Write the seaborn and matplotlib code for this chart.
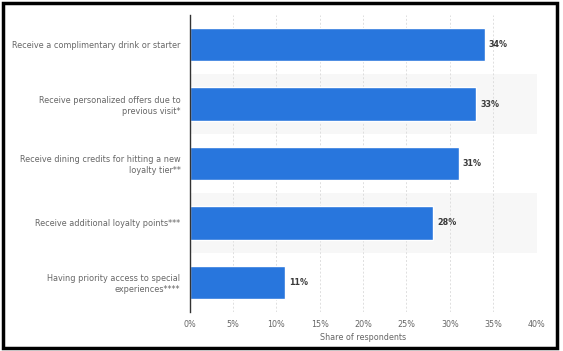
import matplotlib
matplotlib.use("Agg")
import matplotlib.pyplot as plt
import seaborn as sns
import pandas as pd
from matplotlib.patches import Rectangle

categories = [
    "Receive a complimentary drink or starter",
    "Receive personalized offers due to\nprevious visit*",
    "Receive dining credits for hitting a new\nloyalty tier**",
    "Receive additional loyalty points***",
    "Having priority access to special\nexperiences****",
]
values = [34, 33, 31, 28, 11]
xticks = [0, 5, 10, 15, 20, 25, 30, 35, 40]
xticklabels = [f"{t}%" for t in xticks]

df = pd.DataFrame({"cat": categories, "val": values})

sns.set_theme(style="white")
plt.rcParams["font.family"] = ["DejaVu Sans"]

fig = plt.figure(figsize=(5.63, 3.51), dpi=100)
ax = fig.add_axes([189.5 / 563, (351 - 312) / 351, 347.2 / 563, 297 / 351])

# alternating bands
for i in range(len(categories)):
    if i % 2 == 1:
        ax.axhspan(i - 0.5, i + 0.5, color="#f7f7f7", zorder=0, lw=0)

sns.barplot(data=df, x="val", y="cat", color="#2876dd", saturation=1,
            width=0.56, ax=ax, zorder=3)

ax.set_xlim(0, 40)
ax.set_ylim(len(categories) - 0.5, -0.5)
ax.set_xticks(xticks)
ax.set_xticklabels(xticklabels)
ax.xaxis.grid(True, color="#dedede", linestyle=(0, (2, 2)), linewidth=0.7, zorder=1)
ax.set_axisbelow(True)
for s in ["top", "right", "bottom"]:
    ax.spines[s].set_visible(False)
ax.spines["left"].set_color("#333333")
ax.spines["left"].set_linewidth(1.0)
ax.spines["left"].set_zorder(6)
ax.tick_params(axis="x", length=0, pad=6, labelsize=5.8, labelcolor="#666666")
ax.tick_params(axis="y", length=0, pad=6.5, labelsize=5.85, labelcolor="#666666")
for lbl in ax.get_yticklabels():
    lbl.set_horizontalalignment("right")
    lbl.set_multialignment("right")
ax.set_ylabel("")
ax.set_xlabel("Share of respondents", fontsize=5.8, color="#666666", labelpad=3)

for i, v in enumerate(values):
    ax.text(v + 0.5, i, f"{v}%", va="center", ha="left", fontsize=5.8,
            color="#3a3a3a", fontweight="bold", zorder=4)

fig.patches.append(Rectangle((2.5 / 563, (351 - 348) / 351), (557 - 2.5) / 563, (348 - 2.5) / 351,
                             transform=fig.transFigure, fill=False,
                             edgecolor="black", linewidth=2.5, zorder=10))

fig.savefig("out.png", dpi=100)
